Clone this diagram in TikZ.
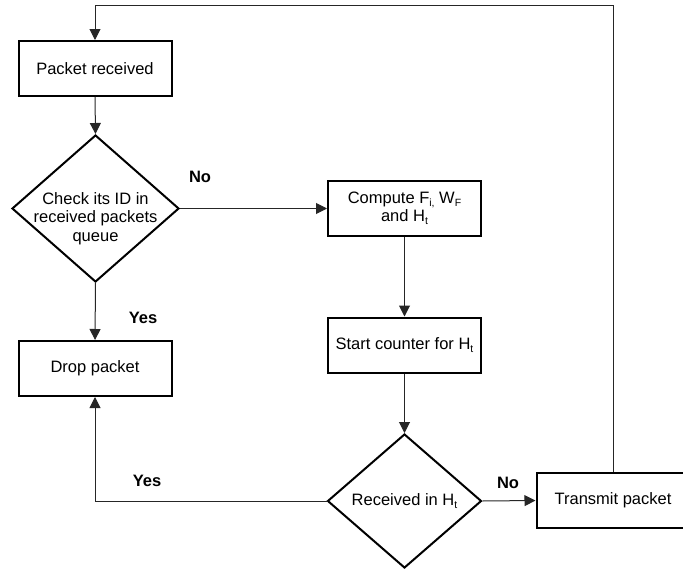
\documentclass[tikz,border=0pt]{standalone}
\usepackage{fontspec}
\setmainfont{Liberation Sans}
\usetikzlibrary{shapes.geometric,arrows.meta}

% small lowered index in the text font
\newcommand{\lowidx}[1]{\raisebox{-0.35ex}{\fontsize{10.5}{10.5}\selectfont #1}}

\tikzset{
  stepbox/.style={draw=black, line width=2pt, rectangle, minimum width=153pt,
    minimum height=55pt, inner sep=0pt, align=center,
    font=\fontsize{16.5}{18.5}\selectfont},
  decision/.style={draw=black, line width=2pt, diamond, inner sep=0pt},
  txt/.style={align=center, inner sep=0pt, font=\fontsize{16.5}{18.5}\selectfont},
  answer/.style={inner sep=0pt, font=\bfseries\fontsize{16.5}{18}\selectfont},
  flow/.style={draw=black!85, line width=1pt,
    -{Triangle[length=11pt, width=11pt]}},
  wire/.style={draw=black!85, line width=1pt},
}

\begin{document}
\begin{tikzpicture}[x=1pt, y=-1pt]
  \useasboundingbox (0,0) rectangle (683,570);

  % process steps
  \node[stepbox] (pr) at (95,68.5)  {Packet received};
  \node[stepbox] (dp) at (95,368.5) {Drop packet};
  \node[stepbox] (cp) at (404.5,208.5) {};
  \node[txt] (cpt) at (404.5,208.5) {Compute F\lowidx{i,} W\lowidx{F}\\and H\lowidx{t}};
  \node[stepbox] (sc) at (404.5,345) {Start counter for H\lowidx{t}};
  \node[stepbox] (tp) at (613,500.5) {Transmit packet};

  % decisions
  \node[decision, minimum width=167pt, minimum height=147pt] (d1) at (95.5,208.5) {};
  \node[txt] (d1t) at (95.5,218.5) {Check its ID in\\received packets\\queue};
  \node[decision, minimum width=154pt, minimum height=134pt] (d2) at (404.5,501) {};
  \node[txt] (d2t) at (404.5,501) {Received in H\lowidx{t}};

  % connectors
  \draw[flow] (pr.south) -- (d1.north);
  \draw[flow] (d1.east) -- (cp.west);
  \draw[flow] (d1.south) -- (dp.north);
  \draw[flow] (cp.south) -- (sc.north);
  \draw[flow] (sc.south) -- (d2.north);
  \draw[flow] (d2.west) -| (dp.south);
  \draw[flow] (d2.east) -- (tp.west);
  \coordinate (loopR) at (613,5);
  \coordinate (loopL) at (95,5);
  \draw[wire] (tp.north) -- (loopR) -- (loopL);
  \draw[flow] (loopL) -- (pr.north);

  % branch labels
  \node[answer] (no1)  at (200,177) {No};
  \node[answer] (yes1) at (143,318) {Yes};
  \node[answer] (yes2) at (147,481) {Yes};
  \node[answer] (no2)  at (508,483) {No};
\end{tikzpicture}
\end{document}
